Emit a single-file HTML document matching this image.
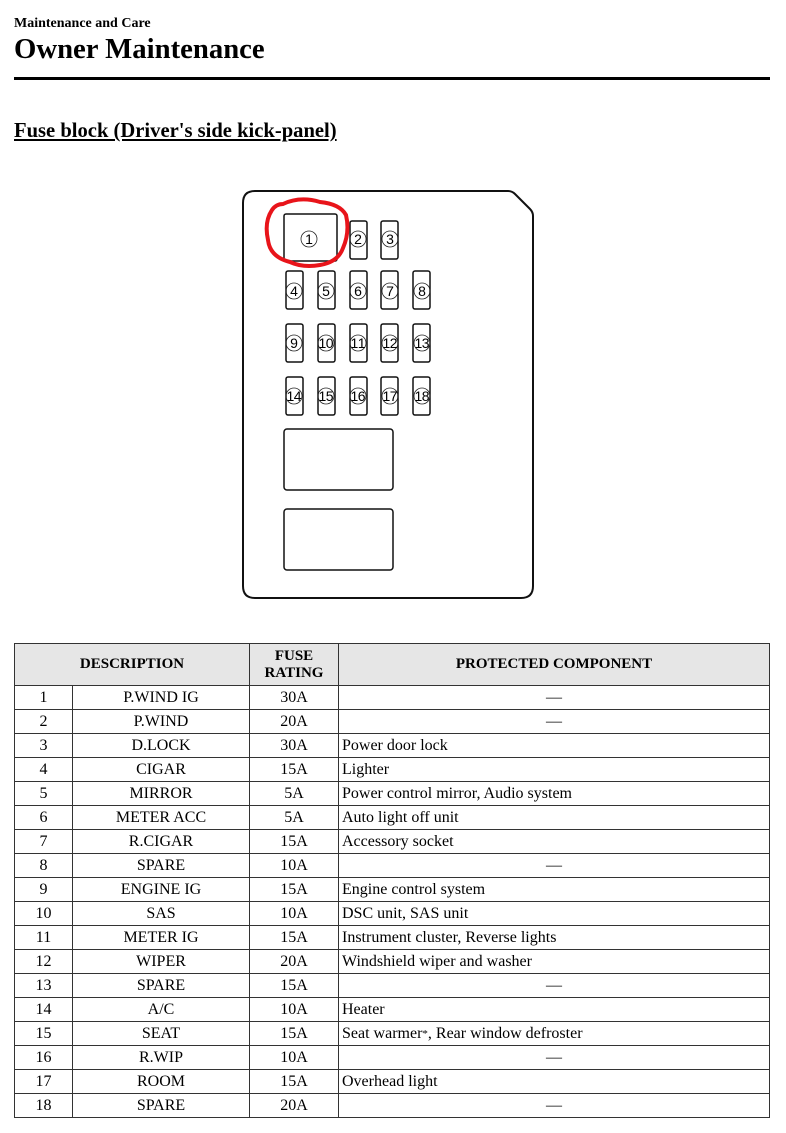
<!DOCTYPE html>
<html><head><meta charset="utf-8"><style>
body{margin:0;width:786px;height:1133px;background:#fff;position:relative;font-family:"Liberation Serif",serif;color:#000;overflow:hidden}
.a{position:absolute;white-space:nowrap}
table{position:absolute;left:14px;top:643px;border-collapse:collapse;font-size:16px}
td{border:1px solid #333;height:23px;padding:0;text-align:center;line-height:16px}
th{border:1px solid #333;background:#e6e6e6;font-weight:bold;font-size:15px;height:41px;line-height:17px;padding:0}
td.l{text-align:left;padding-left:3px}
</style></head><body>
<div class="a" style="left:14px;top:16px;font-size:14px;font-weight:bold">Maintenance and Care</div>
<div class="a" style="left:14px;top:33px;font-size:29px;font-weight:bold;transform:scaleX(.99);transform-origin:left">Owner Maintenance</div>
<div class="a" style="left:14px;top:77px;width:756px;height:3px;background:#000"></div>
<div class="a" style="left:14px;top:120px;font-size:20.6px;font-weight:bold;text-decoration:underline">Fuse block (Driver's side kick-panel)</div>
<svg class="a" style="left:0;top:0" width="786" height="640" font-family="Liberation Sans,sans-serif" font-size="15">
<path d="M255 191 H508 Q512 191 515 194 L530 209 Q533 212 533 216 V586 Q533 598 521 598 H255 Q243 598 243 586 V203 Q243 191 255 191 Z" fill="none" stroke="#111" stroke-width="2"/>
<g fill="#fff" stroke="#111" stroke-width="1.5">
<rect x="284" y="214" width="53" height="47" rx="2"/>
<rect x="350" y="221" width="17" height="38" rx="2"/><rect x="381" y="221" width="17" height="38" rx="2"/>
<rect x="286" y="271" width="17" height="38" rx="2"/><rect x="318" y="271" width="17" height="38" rx="2"/><rect x="350" y="271" width="17" height="38" rx="2"/><rect x="381" y="271" width="17" height="38" rx="2"/><rect x="413" y="271" width="17" height="38" rx="2"/>
<rect x="286" y="324" width="17" height="38" rx="2"/><rect x="318" y="324" width="17" height="38" rx="2"/><rect x="350" y="324" width="17" height="38" rx="2"/><rect x="381" y="324" width="17" height="38" rx="2"/><rect x="413" y="324" width="17" height="38" rx="2"/>
<rect x="286" y="377" width="17" height="38" rx="2"/><rect x="318" y="377" width="17" height="38" rx="2"/><rect x="350" y="377" width="17" height="38" rx="2"/><rect x="381" y="377" width="17" height="38" rx="2"/><rect x="413" y="377" width="17" height="38" rx="2"/>
<rect x="284" y="429" width="109" height="61" rx="3"/><rect x="284" y="509" width="109" height="61" rx="3"/>
</g>
<g fill="none" stroke="#222" stroke-width="0.8">
<circle cx="309" cy="239" r="8"/>
<circle cx="358" cy="239" r="8"/><circle cx="390" cy="239" r="8"/>
<circle cx="294" cy="291" r="8"/><circle cx="326" cy="291" r="8"/><circle cx="358" cy="291" r="8"/><circle cx="390" cy="291" r="8"/><circle cx="422" cy="291" r="8"/>
<circle cx="294" cy="343" r="8"/><circle cx="326" cy="343" r="8"/><circle cx="358" cy="343" r="8"/><circle cx="390" cy="343" r="8"/><circle cx="422" cy="343" r="8"/>
<circle cx="294" cy="396" r="8"/><circle cx="326" cy="396" r="8"/><circle cx="358" cy="396" r="8"/><circle cx="390" cy="396" r="8"/><circle cx="422" cy="396" r="8"/>
</g>
<g text-anchor="middle" font-size="14">
<text x="309" y="244">1</text><text x="358" y="244">2</text><text x="390" y="244">3</text>
<text x="294" y="296">4</text><text x="326" y="296">5</text><text x="358" y="296">6</text><text x="390" y="296">7</text><text x="422" y="296">8</text>
<g transform="translate(0,348)"><text x="294" y="0">9</text><text x="326" y="0" textLength="15">10</text><text x="358" y="0" textLength="15">11</text><text x="390" y="0" textLength="15">12</text><text x="422" y="0" textLength="15">13</text></g>
<g transform="translate(0,401)"><text x="294" y="0" textLength="15">14</text><text x="326" y="0" textLength="15">15</text><text x="358" y="0" textLength="15">16</text><text x="390" y="0" textLength="15">17</text><text x="422" y="0" textLength="15">18</text></g>
</g>
<path d="M283 204 Q300 196 320 202 Q340 204 346 215 Q350 232 343 248 Q338 262 320 265 Q303 268 290 262 Q270 257 268 240 Q264 222 272 210 Q276 204 283 204 Z" fill="none" stroke="#e8141a" stroke-width="4"/>
</svg>
<table>
<tr><th colspan="2" style="width:234px">DESCRIPTION</th><th style="width:88px">FUSE<br>RATING</th><th style="width:430px">PROTECTED COMPONENT</th></tr>
<tr><td style="width:57px">1</td><td style="width:176px">P.WIND IG</td><td>30A</td><td>—</td></tr>
<tr><td>2</td><td>P.WIND</td><td>20A</td><td>—</td></tr>
<tr><td>3</td><td>D.LOCK</td><td>30A</td><td class="l">Power door lock</td></tr>
<tr><td>4</td><td>CIGAR</td><td>15A</td><td class="l">Lighter</td></tr>
<tr><td>5</td><td>MIRROR</td><td>5A</td><td class="l">Power control mirror, Audio system</td></tr>
<tr><td>6</td><td>METER ACC</td><td>5A</td><td class="l">Auto light off unit</td></tr>
<tr><td>7</td><td>R.CIGAR</td><td>15A</td><td class="l">Accessory socket</td></tr>
<tr><td>8</td><td>SPARE</td><td>10A</td><td>—</td></tr>
<tr><td>9</td><td>ENGINE IG</td><td>15A</td><td class="l">Engine control system</td></tr>
<tr><td>10</td><td>SAS</td><td>10A</td><td class="l">DSC unit, SAS unit</td></tr>
<tr><td>11</td><td>METER IG</td><td>15A</td><td class="l">Instrument cluster, Reverse lights</td></tr>
<tr><td>12</td><td>WIPER</td><td>20A</td><td class="l">Windshield wiper and washer</td></tr>
<tr><td>13</td><td>SPARE</td><td>15A</td><td>—</td></tr>
<tr><td>14</td><td>A/C</td><td>10A</td><td class="l">Heater</td></tr>
<tr><td>15</td><td>SEAT</td><td>15A</td><td class="l">Seat warmer<span style="font-size:11px;vertical-align:top">*</span>, Rear window defroster</td></tr>
<tr><td>16</td><td>R.WIP</td><td>10A</td><td>—</td></tr>
<tr><td>17</td><td>ROOM</td><td>15A</td><td class="l">Overhead light</td></tr>
<tr><td>18</td><td>SPARE</td><td>20A</td><td>—</td></tr>
</table>
</body></html>
